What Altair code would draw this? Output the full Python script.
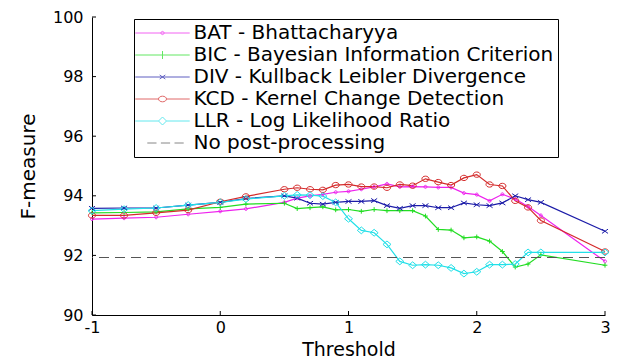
import altair as alt
import pandas as pd

# ---- data ----
thresholds = [-1, -0.75, -0.5, -0.25, 0, 0.2, 0.5, 0.6, 0.7, 0.8, 0.9, 1.0, 1.1, 1.2,
              1.3, 1.4, 1.5, 1.6, 1.7, 1.8, 1.9, 2.0, 2.1, 2.2, 2.3, 2.4, 2.5, 3.0]

bat = [93.22, 93.25, 93.28, 93.38, 93.48, 93.56, 93.78, 93.92, 94.00, 94.05, 94.12, 94.15,
       94.22, 94.30, 94.40, 94.30, 94.31, 94.30, 94.28, 94.28, 94.09, 94.04, 93.83, 94.05,
       93.89, 93.64, 93.34, 91.80]
bic = [93.43, 93.44, 93.46, 93.56, 93.61, 93.72, 93.75, 93.57, 93.60, 93.63, 93.53, 93.54,
       93.48, 93.54, 93.50, 93.50, 93.50, 93.32, 92.87, 92.85, 92.59, 92.62, 92.48, 92.13,
       91.61, 91.71, 92.02, 91.67]
div = [93.58, 93.59, 93.59, 93.69, 93.78, 93.91, 94.00, 93.92, 93.75, 93.72, 93.78, 93.81,
       93.81, 93.84, 93.67, 93.58, 93.67, 93.67, 93.60, 93.60, 93.76, 93.70, 93.67, 93.76,
       94.00, 93.87, 93.78, 92.81]
kcd = [93.34, 93.34, 93.43, 93.52, 93.80, 93.98, 94.22, 94.27, 94.22, 94.20, 94.36, 94.38,
       94.31, 94.31, 94.27, 94.38, 94.34, 94.57, 94.46, 94.36, 94.60, 94.71, 94.38, 94.33,
       93.83, 93.61, 93.17, 92.13]
llr = [93.50, 93.55, 93.59, 93.69, 93.78, 93.89, 94.00, 94.03, 94.02, 93.99, 93.78, 93.23,
       92.84, 92.76, 92.37, 91.80, 91.67, 91.69, 91.67, 91.58, 91.39, 91.45, 91.69, 91.69,
       91.71, 92.10, 92.10, 92.10]
baseline = 91.93  # "No post-processing"

methods = ["BAT - Bhattacharyya", "BIC - Bayesian Information Criterion",
           "DIV - Kullback Leibler Divergence", "KCD - Kernel Change Detection",
           "LLR - Log Likelihood Ratio"]
baseline_label = "No post-processing"
series = [bat, bic, div, kcd, llr]

x_ticks = [-1, 0, 1, 2, 3]
y_ticks = [90, 92, 94, 96, 98, 100]

# ---- styles ----
colors = ["#ee22ee", "#22dd22", "#1c1ca8", "#d42a2a", "#22e0e8"]
baseline_color = "#555555"
marker_paths = [
    "M1,0A1,1,0,1,1,-1,0A1,1,0,1,1,1,0",
    "M-1,0L1,0M0,-1L0,1",
    "M-1,-0.7L1,0.7M-1,0.7L1,-0.7",
    "M1,0A1,0.75,0,1,1,-1,0A1,0.75,0,1,1,1,0",
    "M-1,0L0,-0.85L1,0L0,0.85Z",
]
marker_sizes = [9, 64, 36, 100, 100]
legend_paths = [
    "M-3.4,0L3.4,0M0.2,0A0.2,0.2,0,1,1,-0.2,0A0.2,0.2,0,1,1,0.2,0",
    "M-3.4,0L3.4,0M0,-0.5L0,0.5",
    "M-3.4,0L3.4,0M-0.35,-0.25L0.35,0.25M-0.35,0.25L0.35,-0.25",
    "M-3.4,0L-0.5,0M0.5,0L3.4,0M0.5,0A0.5,0.35,0,1,1,-0.5,0A0.5,0.35,0,1,1,0.5,0",
    "M-3.4,0L-0.5,0M0.5,0L3.4,0M-0.5,0L0,-0.5L0.5,0L0,0.5Z",
    "M-1.9,0L-0.75,0M-0.2,0L0.95,0M1.5,0L2.65,0",
]

FONT = "DejaVu Sans"
W, H = 513, 298

rows = []
for name, vals in zip(methods, series):
    for t, v in zip(thresholds, vals):
        rows.append({"threshold": t, "fmeasure": v, "method": name})
df = pd.DataFrame(rows)

x_enc = alt.X("threshold:Q", scale=alt.Scale(domain=[-1, 3], nice=False),
              axis=alt.Axis(values=x_ticks, title="Threshold", labelExpr="'' + datum.value",
                            labelFlush=False, labelPadding=4, titlePadding=5,
                            titleFontSize=19))
y_enc = alt.Y("fmeasure:Q", scale=alt.Scale(domain=[90, 100], nice=False),
              axis=alt.Axis(values=y_ticks, title="F-measure", labelPadding=9,
                            titlePadding=14))

color_5 = alt.Color("method:N", scale=alt.Scale(domain=methods, range=colors), legend=None)

base = alt.Chart(df)

lines = base.mark_line(strokeWidth=1.2).encode(x=x_enc, y=y_enc, color=color_5)

points = base.mark_point(filled=False, strokeWidth=1, opacity=1).encode(
    x="threshold:Q", y="fmeasure:Q",
    color=alt.Color("method:N", scale=alt.Scale(domain=methods, range=colors), legend=None),
    shape=alt.Shape("method:N", scale=alt.Scale(domain=methods, range=marker_paths), legend=None),
    size=alt.Size("method:N", scale=alt.Scale(domain=methods, range=marker_sizes), legend=None),
)

dashed = alt.Chart(pd.DataFrame({"y": [baseline]})).mark_rule(
    strokeDash=[10, 6], strokeWidth=1.2, color=baseline_color
).encode(y="y:Q")

legend_domain = methods + [baseline_label]
legend_kw = dict(
    title=None, orient="none", legendX=42, legendY=2, direction="vertical", columns=1,
    strokeColor="black", fillColor="white", padding=4,
    labelFont=FONT, labelFontSize=20, labelColor="black", labelLimit=600,
    symbolSize=256, symbolStrokeWidth=1, symbolOffset=14.5, labelOffset=21, rowPadding=2,
)
legend_layer = base.mark_point(filled=False, strokeWidth=1).encode(
    x="threshold:Q", y="fmeasure:Q",
    color=alt.Color("method:N", scale=alt.Scale(domain=legend_domain, range=colors + [baseline_color]),
                    legend=alt.Legend(**legend_kw)),
    shape=alt.Shape("method:N", scale=alt.Scale(domain=legend_domain, range=legend_paths),
                    legend=alt.Legend(**legend_kw)),
).transform_filter("false")

xticks = alt.Chart(pd.DataFrame({"t": x_ticks})).mark_rule(color="black", strokeWidth=1).encode(
    x="t:Q", y=alt.value(H), y2=alt.value(H - 4))
yticks = alt.Chart(pd.DataFrame({"t": y_ticks})).mark_rule(color="black", strokeWidth=1).encode(
    y="t:Q", x=alt.value(0), x2=alt.value(4))

chart = alt.layer(lines, points, dashed, xticks, yticks, legend_layer).resolve_scale(
    color="independent", shape="independent", size="independent"
).properties(
    width=W, height=H, autosize="none", background="white",
    padding={"left": 84, "top": 9, "right": 12, "bottom": 45},
).configure_view(stroke=None).configure_axis(
    grid=False, ticks=False, domainColor="black", domainWidth=1,
    labelFont=FONT, labelFontSize=16, labelColor="black",
    titleFont=FONT, titleFontSize=20, titleFontWeight="normal", titleColor="black",
)

chart.save("out.html", embed_options={"renderer": "svg", "actions": False})
